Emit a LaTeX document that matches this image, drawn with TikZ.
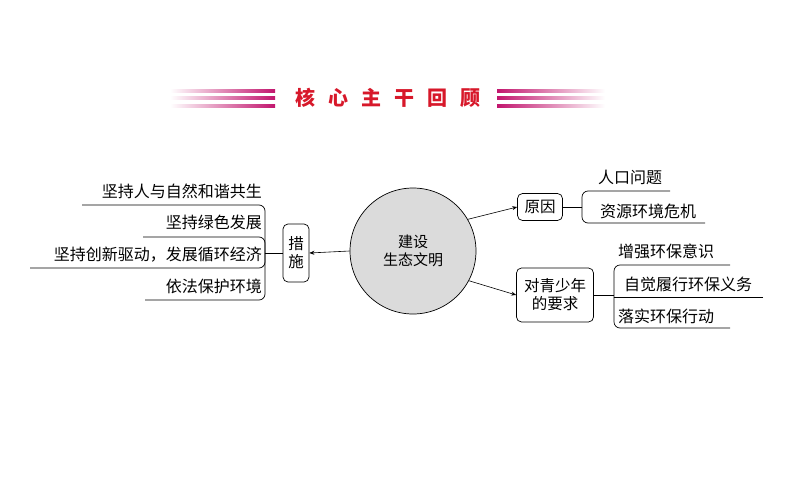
\documentclass[tikz,border=0pt]{standalone}
\usepackage{fontspec}
\setmainfont{Noto Sans CJK SC}
\usetikzlibrary{arrows.meta,shadings}
\definecolor{mag}{HTML}{C2166E}
\definecolor{tred}{HTML}{D7182A}
\begin{document}
\begin{tikzpicture}[x=1pt,y=-1pt,
  t/.style={font=\fontsize{16}{18}\selectfont,inner sep=0pt},
  bx/.style={draw,rounded corners=5pt,line width=0.7pt,font=\fontsize{15.5}{18}\selectfont,align=center,inner sep=3pt},
  ln/.style={line width=0.7pt,rounded corners=6pt},
  ar/.style={line width=0.6pt,-{Stealth[length=5pt,width=4pt]}}]
\useasboundingbox (0,0) rectangle (794,495);
% title
\foreach \yy in {91,98,106}{
  \shade[left color=white,right color=mag] (170,\yy-1.3) rectangle (275,\yy+1.3);
  \shade[left color=mag,right color=white] (497,\yy-1.3) rectangle (605,\yy+1.3);
}
\node[font=\fontsize{20}{22}\selectfont\bfseries,text=tred] (title) at (388,98) {核\hspace{0.65em}心\hspace{0.65em}主\hspace{0.65em}干\hspace{0.65em}回\hspace{0.65em}顾};
% center
\node[circle,draw,fill=gray!28,minimum size=126pt,line width=0.7pt,align=center,font=\fontsize{15}{18}\selectfont] (c) at (413,251) {建设\\生态文明};
% left
\node[bx,minimum width=26pt,minimum height=58pt] (cs) at (296,253) {措\\施};
\draw[ar] (c.west) -- (cs.east);
\coordinate (lb) at (265,253);
\draw[line width=0.7pt] (lb) -- (cs.west);
\node[t,anchor=south east] (l1) at (262,199) {坚持人与自然和谐共生};
\node[t,anchor=south east] (l2) at (262,230) {坚持绿色发展};
\node[t,anchor=south east] (l3) at (262,262) {坚持创新驱动，发展循环经济};
\node[t,anchor=south east] (l4) at (262,294) {依法保护环境};
\draw[ln] (82,205) -- (265,205) -- (lb);
\draw[ln] (143,237) -- (265,237) -- (lb);
\draw[ln] (30,268) -- (265,268) -- (lb);
\draw[ln] (145,300) -- (265,300) -- (lb);
% right top
\node[bx,minimum height=27pt,minimum width=45pt] (yy) at (540,207) {原因};
\draw[ar] (c.30) -- (yy.west);
\coordinate (rb1) at (582,207);
\draw[line width=0.7pt] (yy.east) -- (rb1);
\node[t] (r1) at (630,177) {人口问题};
\node[t] (r2) at (648,211) {资源环境危机};
\draw[ln] (670,191) -- (582,191) -- (rb1);
\draw[ln] (705,223) -- (582,223) -- (rb1);
% right bottom
\node[bx,minimum height=54pt,minimum width=77pt] (qs) at (555,295) {对青少年\\的要求};
\draw[ar] (c.-28) -- (qs.west);
\coordinate (rb2) at (614,297);
\draw[line width=0.7pt] (qs.east) -- (qs.east-|rb2);
\node[t] (s1) at (666,251) {增强环保意识};
\node[t] (s2) at (688,284) {自觉履行环保义务};
\node[t] (s3) at (666,316) {落实环保行动};
\draw[ln] (730,265) -- (614,265) -- (rb2);
\draw[ln] (763,297) -- (614,297);
\draw[ln] (730,328) -- (614,328) -- (rb2);
\end{tikzpicture}
\end{document}
